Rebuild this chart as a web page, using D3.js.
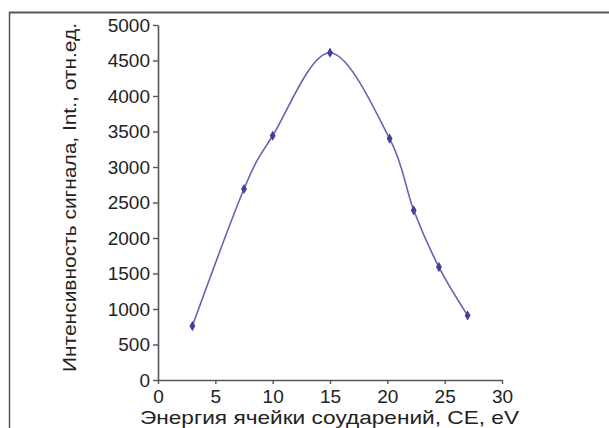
<!DOCTYPE html>
<html>
<head>
<meta charset="utf-8">
<script src="https://cdn.jsdelivr.net/npm/d3@7"></script>
<style>
  body { margin: 0; background: #fff; }
  svg { display: block; font-family: "Liberation Sans", Arial, sans-serif; }
</style>
</head>
<body>
<script>
'use strict';

// collision energy (eV) and signal intensity
const energies = [3, 7.5, 10, 15, 20.2, 22.3, 24.5, 27];
const intensities = [760, 2690, 3440, 4610, 3400, 2390, 1590, 910];
const xTicks = [0, 5, 10, 15, 20, 25, 30];
const yTicks = [0, 500, 1000, 1500, 2000, 2500, 3000, 3500, 4000, 4500, 5000];
const xTitle = "Энергия ячейки соударений, CE, eV";
const yTitle = "Интенсивность сигнала, Int., отн.ед.";

(function() {
  const width = 609, height = 428;
  const svg = d3.select('body').append('svg')
    .attr('width', width)
    .attr('height', height);

  // frame: top and left edges only are visible
  svg.append('line')
    .attr('x1', 9).attr('y1', 12.5).attr('x2', width).attr('y2', 12.5)
    .attr('stroke', '#555').attr('stroke-width', 2);
  svg.append('line')
    .attr('x1', 9.5).attr('y1', 12).attr('x2', 9.5).attr('y2', height)
    .attr('stroke', '#555').attr('stroke-width', 1.5);

  let xScale = d3.scaleLinear().domain([0, 30]).range([158, 502]);
  let yScale = d3.scaleLinear().domain([0, 5000]).range([380, 25]);

  // x axis
  let xAxis = d3.axisBottom(xScale).tickValues(xTicks).tickFormat(d3.format('d'))
    .tickSize(4).tickPadding(6).tickSizeOuter(0);
  let gx = svg.append('g')
    .attr('transform', 'translate(0,' + yScale(0) + ')')
    .call(xAxis);

  // y axis
  let yAxis = d3.axisLeft(yScale).tickValues(yTicks).tickFormat(d3.format('d'))
    .tickSize(5).tickPadding(3).tickSizeOuter(0);
  let gy = svg.append('g')
    .attr('transform', 'translate(' + xScale(0) + ',0)')
    .call(yAxis);

  [gx, gy].forEach((g) => {
    g.select('.domain').attr('stroke', '#555').attr('stroke-width', 1.6);
    g.selectAll('.tick line').attr('stroke', '#555').attr('stroke-width', 1.4);
    g.selectAll('.tick text')
      .attr('fill', '#222')
      .style('font-size', '19px')
      .style('font-family', '"Liberation Sans", Arial, sans-serif');
  });

  // axis titles (stretched a little, the original font is wider)
  svg.append('text')
    .attr('x', 140)
    .attr('y', 424)
    .attr('textLength', 379)
    .attr('lengthAdjust', 'spacingAndGlyphs')
    .attr('fill', '#222')
    .style('font-size', '19px')
    .text(xTitle);

  svg.append('text')
    .attr('transform', 'translate(76,372)rotate(-90)')
    .attr('textLength', 349)
    .attr('lengthAdjust', 'spacingAndGlyphs')
    .attr('fill', '#222')
    .style('font-size', '19px')
    .text(yTitle);

  // smoothed line like the spreadsheet curve
  let points = energies.map((e, i) => [e, intensities[i]]);
  let line = d3.line()
    .x((d) => xScale(d[0]))
    .y((d) => yScale(d[1]))
    .curve(d3.curveCardinal.tension(0));

  svg.append('path')
    .datum(points)
    .attr('fill', 'none')
    .attr('stroke', '#6464b4')
    .attr('stroke-width', 1.6)
    .attr('d', line);

  // diamond markers
  let diamond = d3.symbol().type(d3.symbolDiamond).size(30);
  svg.selectAll('.dot')
    .data(points)
    .enter()
    .append('path')
      .attr('class', 'dot')
      .attr('d', diamond)
      .attr('transform', (d) => 'translate(' + xScale(d[0]) + ',' + yScale(d[1]) + ')')
      .attr('fill', '#40409a');
})();
</script>
</body>
</html>
